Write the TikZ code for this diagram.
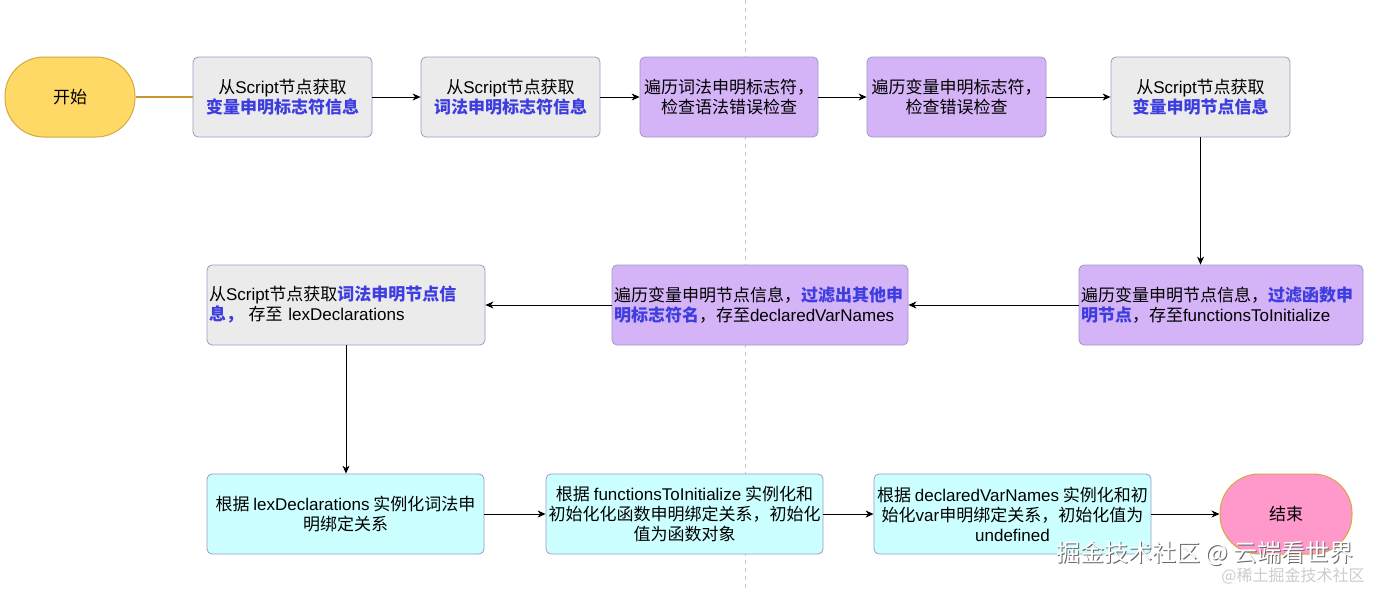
\documentclass[tikz,border=0pt]{standalone}
\usepackage{fontspec}
\setmainfont{Noto Sans CJK SC}
\newfontfamily\lat{Liberation Sans}
\usetikzlibrary{arrows.meta}
\definecolor{yfill}{HTML}{FFD966}
\definecolor{ydraw}{HTML}{D6A93E}
\definecolor{yline}{HTML}{C8962A}
\definecolor{gfill}{HTML}{EBEBEB}
\definecolor{pfill}{HTML}{D4B3F6}
\definecolor{cfill}{HTML}{CCFFFF}
\definecolor{kfill}{HTML}{FF99CC}
\definecolor{bdraw}{HTML}{9A9AC8}
\definecolor{hlblue}{HTML}{3D3DE0}
\definecolor{dashc}{HTML}{C8C8C8}
\newcommand\hlb[1]{\textcolor{hlblue}{\bfseries #1}}
\tikzset{
  box/.style={rectangle, rounded corners=5pt, draw=bdraw, line width=0.8pt,
    minimum height=80pt, inner sep=2pt, align=center,
    font=\fontsize{17}{20}\selectfont},
  graybox/.style={box, fill=gfill},
  purplebox/.style={box, fill=pfill},
  cyanbox/.style={box, fill=cfill},
  term/.style={rectangle, rounded corners=39pt, draw=ydraw, line width=1pt,
    minimum height=80pt, font=\fontsize{17}{20}\selectfont},
  flow/.style={draw=black, line width=0.9pt, -{Stealth[length=8pt,width=7pt,inset=2.5pt]}},
}
\begin{document}
\begin{tikzpicture}[x=1pt,y=-1pt]
\useasboundingbox (0,0) rectangle (1380,589);
\fill[white] (0,0) rectangle (1380,589);
\coordinate (dtop) at (745,0);
\coordinate (dbot) at (745,589);
\draw[dashc, line width=0.8pt, dash pattern=on 4pt off 4pt] (dtop) -- (dbot);

\node[term, fill=yfill, minimum width=130pt] (start) at (70,97) {开始};
\node[graybox, minimum width=179pt] (b1) at (282.5,97) {从{\lat Script}节点获取\\\hlb{变量申明标志符信息}};
\node[graybox, minimum width=179pt] (b2) at (510.5,97) {从{\lat Script}节点获取\\\hlb{词法申明标志符信息}};
\node[purplebox, minimum width=178pt] (b3) at (729,97) {遍历词法申明标志符，\\检查语法错误检查};
\node[purplebox, minimum width=179pt] (b4) at (956.5,97) {遍历变量申明标志符，\\检查错误检查};
\node[graybox, minimum width=179pt] (b5) at (1200.5,97) {从{\lat Script}节点获取\\\hlb{变量申明节点信息}};

\node[purplebox, text width=280pt, align=left] (b6) at (1221,305) {遍历变量申明节点信息，\hlb{过滤函数申}\\\hlb{明节点}，存至{\lat functionsToInitialize}};
\node[purplebox, text width=292pt, align=left] (b7) at (760,305) {遍历变量申明节点信息，\hlb{过滤出其他申}\\\hlb{明标志符名}，存至{\lat declaredVarNames}};
\node[graybox, text width=274pt, align=left] (b8) at (346,305) {从{\lat Script}节点获取\hlb{词法申明节点信}\\\hlb{息，} 存至 {\lat lexDeclarations}};

\node[cyanbox, minimum width=277pt] (b9) at (345.5,514) {根据 {\lat lexDeclarations} 实例化词法申\\明绑定关系};
\node[cyanbox, minimum width=277pt] (b10) at (684.5,514) {根据 {\lat functionsToInitialize} 实例化和\\初始化化函数申明绑定关系，初始化\\值为函数对象};
\node[cyanbox, minimum width=277pt] (b11) at (1012.5,514) {根据 {\lat declaredVarNames} 实例化和初\\始化{\lat var}申明绑定关系，初始化值为\\{\lat undefined}};
\node[term, fill=kfill, minimum width=132pt] (end) at (1286,514) {结束};

\draw[yline, line width=1.1pt] (start) -- (b1);
\draw[flow] (b1) -- (b2);
\draw[flow] (b2) -- (b3);
\draw[flow] (b3) -- (b4);
\draw[flow] (b4) -- (b5);
\draw[flow] (b5.south) -- (b5.south |- b6.north);
\draw[flow] (b6) -- (b7);
\draw[flow] (b7) -- (b8);
\draw[flow] (b8.south) -- (b8.south |- b9.north);
\draw[flow] (b9) -- (b10);
\draw[flow] (b10) -- (b11);
\draw[flow] (b11) -- (end);

\node[text=gray!80!black, font=\fontsize{24}{24}\selectfont, inner sep=0pt] (wm0) at (1206.2,554.2) {掘金技术社区 @ 云端看世界};
\node[text=white, font=\fontsize{24}{24}\selectfont, inner sep=0pt] (wm) at (1205,553) {掘金技术社区 @ 云端看世界};
\node[text=gray!40, font=\fontsize{16}{16}\selectfont, inner sep=0pt] (wm2) at (1293,576) {@稀土掘金技术社区};
\end{tikzpicture}
\end{document}
